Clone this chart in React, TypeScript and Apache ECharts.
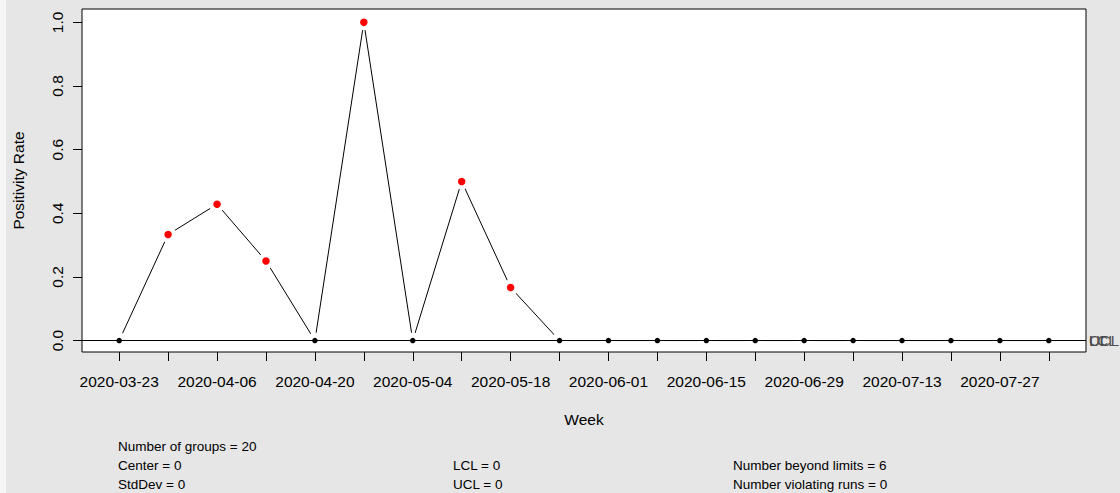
import React, { useEffect, useRef } from "react";
import * as echarts from "echarts";

const weeks: string[] = [
  "2020-03-23", "2020-03-30", "2020-04-06", "2020-04-13", "2020-04-20",
  "2020-04-27", "2020-05-04", "2020-05-11", "2020-05-18", "2020-05-25",
  "2020-06-01", "2020-06-08", "2020-06-15", "2020-06-22", "2020-06-29",
  "2020-07-06", "2020-07-13", "2020-07-20", "2020-07-27", "2020-08-03",
];
const positivity: number[] = [
  0, 0.3333, 0.4286, 0.25, 0, 1.0, 0, 0.5, 0.1667, 0,
  0, 0, 0, 0, 0, 0, 0, 0, 0, 0,
];
const yTicks: number[] = [0, 0.2, 0.4, 0.6, 0.8, 1.0];
const centerValue = 0;
const stdDevValue = 0;
const lclValue = 0;
const uclValue = 0;
const violatingRuns = 0;

const FONT = '"Liberation Sans", Arial, Helvetica, sans-serif';

export default function App() {
  const ref = useRef<HTMLDivElement>(null);
  useEffect(() => {
    if (!ref.current) return;
    const chart = echarts.init(ref.current, null, { renderer: "svg" });
    const idx = weeks.map((_, i) => i + 1);
    const oddIdx = idx.filter((i) => i % 2 === 1);
    const pts = positivity.map((v, i) => [i + 1, v]);
    const beyond = positivity.filter((v) => v > uclValue || v < lclValue).length;
    const txt = (text: string, x: number, y: number) => ({
      type: "text",
      left: x,
      top: y - 8,
      silent: true,
      style: { text, fill: "#000", font: `13.5px ${FONT}` },
    });
    chart.setOption({
      animation: false,
      backgroundColor: "#e6e6e6",
      textStyle: { fontFamily: FONT },
      grid: {
        left: 82,
        right: 34,
        top: 9,
        bottom: 141,
        show: true,
        backgroundColor: "#ffffff",
        borderColor: "#000000",
        borderWidth: 1,
      },
      xAxis: {
        type: "value",
        min: 0.24,
        max: 20.76,
        name: "Week",
        nameLocation: "middle",
        nameGap: 59,
        nameTextStyle: { color: "#000", fontSize: 15.5, fontFamily: FONT },
        axisLine: { show: false, onZero: false },
        splitLine: { show: false },
        axisTick: {
          show: true,
          customValues: idx,
          length: 9,
          lineStyle: { color: "#000", width: 1 },
        },
        axisLabel: {
          customValues: oddIdx,
          formatter: (v: number) => weeks[Math.round(v) - 1] ?? "",
          color: "#000",
          fontSize: 15.5,
          margin: 21,
          fontFamily: FONT,
        },
      },
      yAxis: {
        type: "value",
        min: -0.036,
        max: 1.042,
        name: "Positivity Rate",
        nameLocation: "middle",
        nameGap: 56,
        nameTextStyle: { color: "#000", fontSize: 15.5, fontFamily: FONT },
        axisLine: { show: false, onZero: false },
        splitLine: { show: false },
        axisTick: {
          show: true,
          customValues: yTicks,
          length: 9,
          lineStyle: { color: "#000", width: 1 },
        },
        axisLabel: {
          customValues: yTicks,
          rotate: 90,
          formatter: (v: number) => v.toFixed(1),
          color: "#000",
          fontSize: 15.5,
          margin: 17,
          fontFamily: FONT,
        },
      },
      graphic: [
        { type: "rect", left: 0, top: 0, shape: { width: 6, height: 493 }, style: { fill: "#f6f6f6" }, silent: true },
        txt(`Number of groups = ${weeks.length}`, 118, 447),
        txt(`Center = ${centerValue}`, 118, 466),
        txt(`StdDev = ${stdDevValue}`, 118, 485),
        txt(`LCL = ${lclValue}`, 453, 466),
        txt(`UCL = ${uclValue}`, 453, 485),
        txt(`Number beyond limits = ${beyond}`, 733, 466),
        txt(`Number violating runs = ${violatingRuns}`, 733, 485),
      ],
      series: [
        {
          type: "line",
          data: pts,
          z: 2,
          silent: true,
          symbol: "circle",
          symbolSize: 16,
          showSymbol: true,
          itemStyle: { color: "#ffffff", borderWidth: 0 },
          lineStyle: { color: "#000000", width: 1 },
        },
        {
          type: "line",
          data: [],
          z: 3,
          silent: true,
          markLine: {
            silent: true,
            symbol: "none",
            animation: false,
            lineStyle: { color: "#000000", width: 1, type: "solid" },
            label: {
              show: true,
              position: "end",
              distance: 3,
              color: "#4d4d4d",
              fontSize: 15,
              fontFamily: FONT,
            },
            data: [
              { yAxis: centerValue, label: { formatter: "CL" } },
              { yAxis: lclValue, label: { formatter: "LCL" }, lineStyle: { type: "dashed" } },
              { yAxis: uclValue, label: { formatter: "UCL" }, lineStyle: { type: "dashed" } },
            ],
          },
        },
        {
          type: "scatter",
          z: 4,
          silent: true,
          data: pts.map(([x, v]) => {
            const out = v > uclValue || v < lclValue;
            return {
              value: [x, v],
              symbolSize: out ? 7.5 : 5.5,
              itemStyle: { color: out ? "#ff0000" : "#000000", opacity: 1 },
            };
          }),
        },
      ],
    });
    return () => chart.dispose();
  }, []);
  return (
    <div
      ref={ref}
      style={{ position: "fixed", left: 0, top: 0, width: 1120, height: 493 }}
    />
  );
}
